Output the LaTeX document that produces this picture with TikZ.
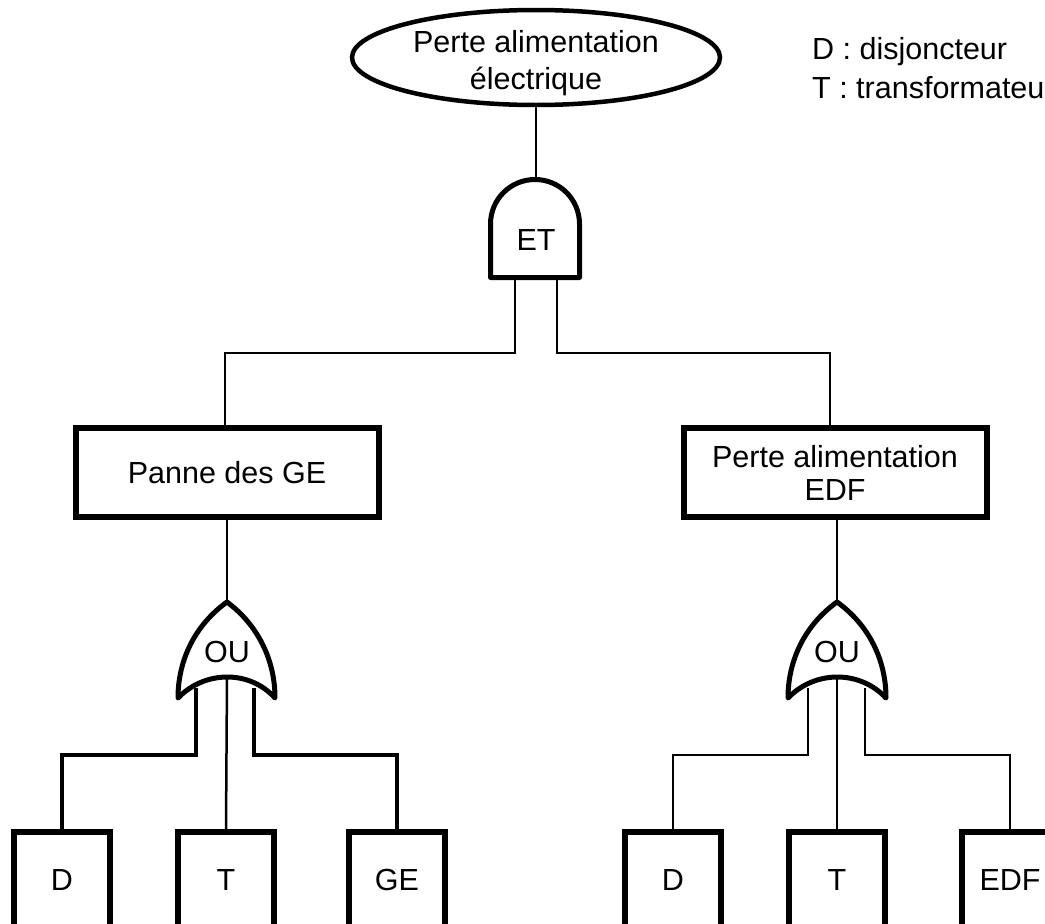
\documentclass[tikz,border=0pt]{standalone}
\usepackage{fontspec}
\setmainfont{Liberation Sans}
\usetikzlibrary{shapes.geometric}
\begin{document}
\begin{tikzpicture}[x=1pt,y=-1pt,
  txt/.style={font=\fontsize{30.5}{36}\selectfont, text=black},
  evbox/.style={txt, draw, line width=6pt, rectangle, inner sep=0pt, align=center},
  topev/.style={draw, line width=4.5pt, ellipse, inner sep=0pt, minimum width=368pt, minimum height=95pt},
  gatel/.style={line width=5pt, line join=round},
  wire/.style={line width=2.5pt},
  wirethick/.style={line width=4pt},
  lbl/.style={txt, inner sep=0pt}]
\useasboundingbox (0,0) rectangle (1045,924);
\clip (0,0) rectangle (1045,924);
\fill[white] (0,0) rectangle (1045,924);

% top event
\node[topev, label={[lbl, align=center, yshift=-6pt]center:Perte alimentation\\[1pt]électrique}] (top) at (536,57.5) {};

% legend
\node[lbl, anchor=base west] (legD) at (812,59) {D : disjoncteur};
\node[lbl, anchor=base west] (legT) at (812,98) {T : transformateur};

% AND gate
\draw[gatel] (490.5,277.5) -- (490.5,224)
  .. controls (490.5,199.4) and (510.4,179.5) .. (535,179.5)
  .. controls (559.6,179.5) and (579.5,199.4) .. (579.5,224)
  -- (579.5,277.5) -- cycle;
\node[lbl] (et) at (536,240) {ET};
\coordinate (andTop) at (536,178);
\coordinate (andL) at (515,280);
\coordinate (andR) at (557,280);

% intermediate events
\node[evbox, minimum width=303pt, minimum height=89pt] (pge) at (227,472.5) {Panne des GE};
\node[evbox, minimum width=303pt, minimum height=89pt] (pedf) at (835,472.5) {Perte alimentation\\[-3pt]EDF};

% OR gate left
\draw[gatel] (227,602) .. controls (195,625) and (178,660) .. (178,698)
  .. controls (205,670) and (250,670) .. (275,698)
  .. controls (275,660) and (258,625) .. (227,602) -- cycle;
\node[lbl] (ouL) at (227,652) {OU};
\coordinate (orLtop) at (227,602);
\coordinate (orLmid) at (227,677);
\coordinate (orLa) at (196,688);
\coordinate (orLb) at (254,688);

% OR gate right
\draw[gatel] (837,602) .. controls (805,625) and (788,660) .. (788,698)
  .. controls (815,670) and (860,670) .. (886,698)
  .. controls (886,660) and (869,625) .. (837,602) -- cycle;
\node[lbl] (ouR) at (837,652) {OU};
\coordinate (orRtop) at (837,602);
\coordinate (orRmid) at (837,677);
\coordinate (orRa) at (808,688);
\coordinate (orRb) at (865,688);

% basic events
\tikzset{basic/.style={evbox, minimum width=96pt, minimum height=96pt}}
\node[basic] (d1) at (62,880) {D};
\node[basic] (t1) at (226,880) {T};
\node[basic] (ge1) at (397,880) {GE};
\node[basic] (d2) at (673,880) {D};
\node[basic] (t2) at (837,880) {T};
\node[basic] (edf2) at (1010,880) {EDF};

% connectors
\draw[wire] (top.south) -- (andTop);
\draw[wire] (andL) |- (353,353) coordinate (busL) -| ([xshift=-2pt]pge.north);
\draw[wire] (andR) |- ([xshift=-5pt]pedf.north |- busL) -- ([xshift=-5pt]pedf.north);
\draw[wire] (orLtop |- pge.south) -- (orLtop);
\draw[wire] (orRtop |- pedf.south) -- (orRtop);

\draw[wirethick] (orLa) |- (d1.north |- 0,755) -- (d1.north);
\draw[wire] (orLmid) -- (t1.north);
\draw[wirethick] (orLb) |- (ge1.north |- 0,755) -- (ge1.north);

\draw[wire] (orRa) |- (d2.north |- 0,755) -- (d2.north);
\draw[wire] (orRmid) -- (t2.north);
\draw[wire] (orRb) |- (edf2.north |- 0,755) -- (edf2.north);
\end{tikzpicture}
\end{document}
